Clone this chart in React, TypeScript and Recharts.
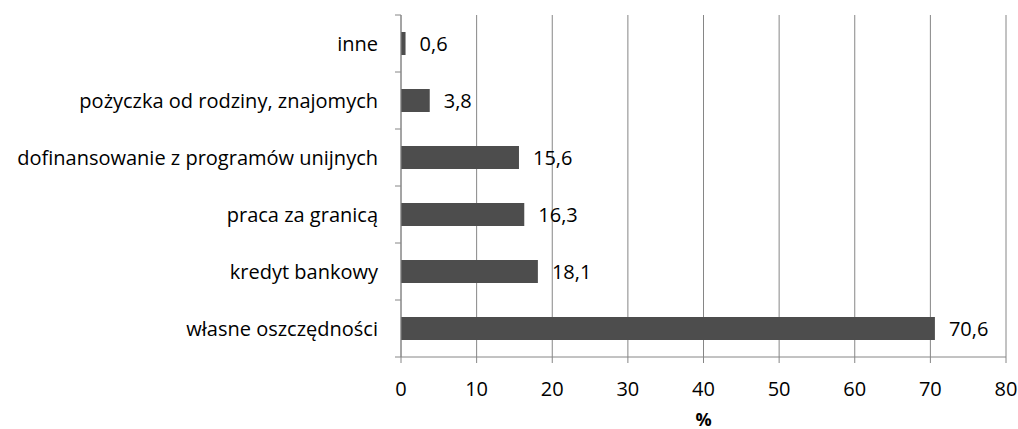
import { BarChart, Bar, XAxis, YAxis, CartesianGrid, LabelList } from "recharts";

const categories = [
  "inne",
  "pożyczka od rodziny, znajomych",
  "dofinansowanie z programów unijnych",
  "praca za granicą",
  "kredyt bankowy",
  "własne oszczędności",
];
const values = [0.6, 3.8, 15.6, 16.3, 18.1, 70.6];
const xTicks = [0, 10, 20, 30, 40, 50, 60, 70, 80];

const FONT = "'Open Sans', sans-serif";
const GRAY = "#868686";
const TICK_GAP = 17;
const TICK_LEN = 6;

// category label plus Excel-style tick marks on the band edges
const CategoryTick = (props: any) => {
  const { x, y, payload, index, visibleTicksCount } = props;
  const half = payload && payload.offset ? payload.offset : 0;
  const axisX = x + TICK_GAP + TICK_LEN;
  const isLast = index === visibleTicksCount - 1;
  return (
    <g>
      <text
        x={x}
        y={y}
        dy="0.35em"
        textAnchor="end"
        fill="#000"
        fontSize={20}
        fontFamily={FONT}
      >
        {payload.value}
      </text>
      <line x1={axisX - TICK_LEN} x2={axisX} y1={y - half} y2={y - half} stroke={GRAY} />
      {isLast && (
        <line x1={axisX - TICK_LEN} x2={axisX} y1={y + half} y2={y + half} stroke={GRAY} />
      )}
    </g>
  );
};

const App = () => {
  const data = categories.map((name, i) => ({ name, value: values[i] }));

  return (
    <div style={{ position: "absolute", left: 0, top: 0, width: 1018, height: 429, background: "#fff" }}>
      <BarChart
        width={1018}
        height={429}
        data={data}
        layout="vertical"
        margin={{ top: 15, right: 12, left: 0, bottom: 0 }}
        style={{ fontFamily: FONT }}
      >
        <CartesianGrid horizontal={false} stroke={GRAY} strokeWidth={1} />
        <XAxis
          type="number"
          domain={[0, 80]}
          ticks={xTicks}
          interval={0}
          height={72}
          tickSize={6}
          tickMargin={19}
          stroke={GRAY}
          tick={{ fill: "#000", fontSize: 20, fontFamily: FONT }}
          label={{
            value: "%",
            position: "insideBottom",
            offset: 3,
            fill: "#000",
            fontSize: 18,
            fontWeight: "bold",
            fontFamily: FONT,
          }}
        />
        <YAxis
          type="category"
          dataKey="name"
          width={401}
          stroke={GRAY}
          tickLine={false}
          tickSize={TICK_LEN}
          tickMargin={TICK_GAP}
          interval={0}
          tick={<CategoryTick />}
        />
        <Bar dataKey="value" fill="#4d4d4d" barSize={23} isAnimationActive={false}>
          <LabelList
            dataKey="value"
            position="right"
            offset={14}
            formatter={(v: any) => String(v).replace(".", ",")}
            style={{ fill: "#000", fontSize: 20, fontFamily: FONT }}
          />
        </Bar>
      </BarChart>
    </div>
  );
};

export default App;
